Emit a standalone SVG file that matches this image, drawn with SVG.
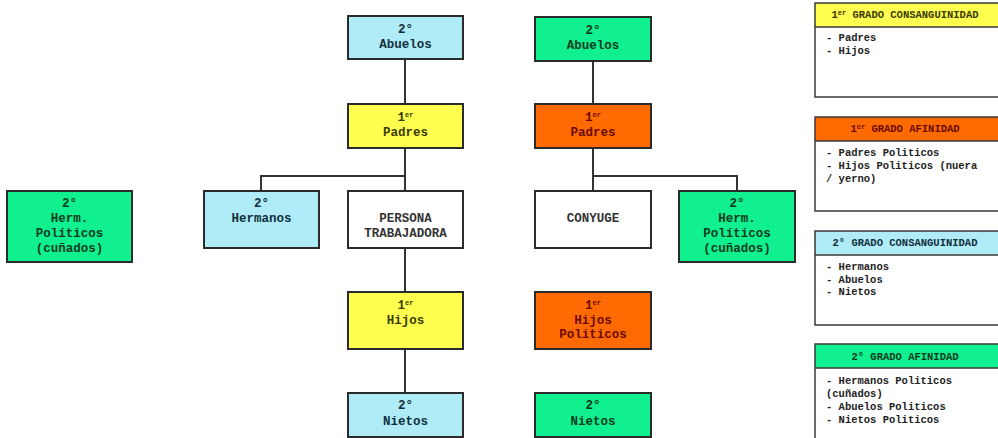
<svg xmlns="http://www.w3.org/2000/svg" width="998" height="438" viewBox="0 0 998 438">
<style>
rect.n{stroke:#2b2b2b;stroke-width:2}
.blue{fill:#b0ebf8}.yel{fill:#ffff50}.grn{fill:#10f08e}.org{fill:#ff6a00}.wht{fill:#ffffff}
text{font-family:"Liberation Mono","Courier New",monospace;font-weight:bold;text-anchor:middle}
text.t{font-size:12.5px}
.tb{fill:#10303c}.ty{fill:#3a3a00}.tg{fill:#0b3a20}.to{fill:#6a0a00}.tw{fill:#333333}
tspan.sup{font-size:7px}
.conn path{fill:none;stroke:#333333;stroke-width:2}
rect.lh{stroke:none}
.lb{fill:none;stroke:#3a3a3a;stroke-width:1.5}
text.lt{font-size:10.5px}
text.lbody{font-size:10.5px;text-anchor:start;fill:#222222}
</style>
<rect width="998" height="438" fill="#ffffff"/>
<g class="conn" id="connectors">
<path d="M405 59V104"/>
<path d="M405 148V191M405 176H261V191"/>
<path d="M405 248V292"/>
<path d="M405 349V393"/>
<path d="M593 61V104"/>
<path d="M593 148V191M593 176H737V191"/>
</g>
<g id="abuelos1"><rect class="n blue" x="348" y="16" width="115" height="43"/><text class="t tb" x="405.5" y="33">2°</text><text class="t tb" x="405.5" y="48">Abuelos</text></g>
<g id="padres1"><rect class="n yel" x="348" y="104" width="115" height="44"/><text class="t ty" x="405.5" y="121">1<tspan class="sup" dy="-4">er</tspan></text><text class="t ty" x="405.5" y="136">Padres</text></g>
<g id="abuelos2"><rect class="n grn" x="535" y="17" width="116" height="44"/><text class="t tg" x="593" y="34">2°</text><text class="t tg" x="593" y="49">Abuelos</text></g>
<g id="padres2"><rect class="n org" x="535" y="104" width="116" height="44"/><text class="t to" x="593" y="121">1<tspan class="sup" dy="-4">er</tspan></text><text class="t to" x="593" y="136">Padres</text></g>
<g id="hermpol1"><rect class="n grn" x="7" y="191" width="125" height="71"/><text class="t tg" x="69.5" y="207">2°</text><text class="t tg" x="69.5" y="222">Herm.</text><text class="t tg" x="69.5" y="237">Políticos</text><text class="t tg" x="69.5" y="252">(cuñados)</text></g>
<g id="hermanos"><rect class="n blue" x="204" y="191" width="115" height="57"/><text class="t tb" x="261.5" y="207">2°</text><text class="t tb" x="261.5" y="222">Hermanos</text></g>
<g id="persona"><rect class="n wht" x="348" y="191" width="115" height="57"/><text class="t tw" x="405.5" y="222">PERSONA</text><text class="t tw" x="405.5" y="237">TRABAJADORA</text></g>
<g id="conyuge"><rect class="n wht" x="535" y="191" width="116" height="57"/><text class="t tw" x="593" y="222">CONYUGE</text></g>
<g id="hermpol2"><rect class="n grn" x="679" y="191" width="116" height="71"/><text class="t tg" x="737" y="207">2°</text><text class="t tg" x="737" y="222">Herm.</text><text class="t tg" x="737" y="237">Políticos</text><text class="t tg" x="737" y="252">(cuñados)</text></g>
<g id="hijos"><rect class="n yel" x="348" y="292" width="115" height="57"/><text class="t ty" x="405.5" y="309">1<tspan class="sup" dy="-4">er</tspan></text><text class="t ty" x="405.5" y="324">Hijos</text></g>
<g id="hijospol"><rect class="n org" x="535" y="292" width="116" height="57"/><text class="t to" x="593" y="309">1<tspan class="sup" dy="-4">er</tspan></text><text class="t to" x="593" y="324">Hijos</text><text class="t to" x="593" y="338">Politicos</text></g>
<g id="nietos1"><rect class="n blue" x="348" y="393" width="115" height="44"/><text class="t tb" x="405.5" y="409">2°</text><text class="t tb" x="405.5" y="425">Nietos</text></g>
<g id="nietos2"><rect class="n grn" x="535" y="393" width="116" height="44"/><text class="t tg" x="593" y="409">2°</text><text class="t tg" x="593" y="425">Nietos</text></g>
<g id="leg1"><rect class="lh yel" x="815" y="3" width="185" height="24"/><path class="lb" d="M1000 3H815V97H1000M815 27H1000"/><text class="lt ty" x="905" y="18">1<tspan class="sup" dy="-3">er</tspan><tspan dy="3"> GRADO CONSANGUINIDAD</tspan></text><text class="lbody" x="826" y="41">- Padres</text><text class="lbody" x="826" y="54">- Hijos</text></g>
<g id="leg2"><rect class="lh org" x="815" y="117" width="185" height="24"/><path class="lb" d="M1000 117H815V211H1000M815 141H1000"/><text class="lt to" x="905" y="132">1<tspan class="sup" dy="-3">er</tspan><tspan dy="3"> GRADO AFINIDAD</tspan></text><text class="lbody" x="826" y="156">- Padres Politicos</text><text class="lbody" x="826" y="169">- Hijos Politicos (nuera</text><text class="lbody" x="826" y="182">/ yerno)</text></g>
<g id="leg3"><rect class="lh blue" x="815" y="231" width="185" height="24"/><path class="lb" d="M1000 231H815V325H1000M815 255H1000"/><text class="lt tb" x="905" y="246">2° GRADO CONSANGUINIDAD</text><text class="lbody" x="826" y="270">- Hermanos</text><text class="lbody" x="826" y="283">- Abuelos</text><text class="lbody" x="826" y="295">- Nietos</text></g>
<g id="leg4"><rect class="lh grn" x="815" y="344" width="185" height="24"/><path class="lb" d="M1000 344H815V440M815 368H1000"/><text class="lt tg" x="905" y="360">2° GRADO AFINIDAD</text><text class="lbody" x="826" y="384">- Hermanos Politicos</text><text class="lbody" x="826" y="397">(cuñados)</text><text class="lbody" x="826" y="410">- Abuelos Politicos</text><text class="lbody" x="826" y="423">- Nietos Politicos</text></g>
</svg>
